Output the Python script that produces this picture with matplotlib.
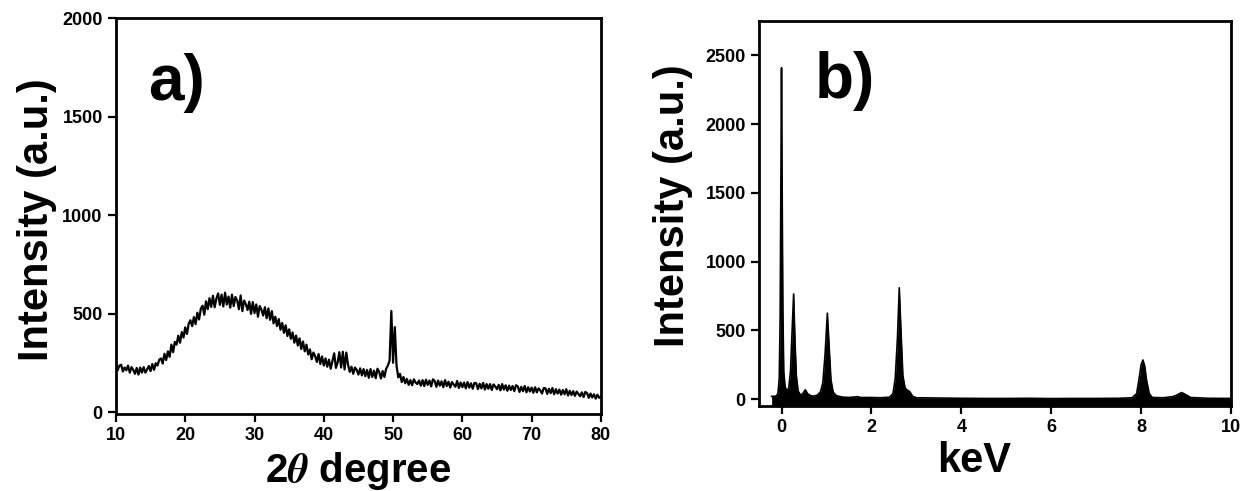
import numpy as np
import matplotlib
matplotlib.use("Agg")
import matplotlib.pyplot as plt

plt.rcParams['font.family'] = ['Liberation Sans', 'DejaVu Sans']
plt.rcParams['font.weight'] = 'bold'
plt.rcParams['mathtext.fontset'] = 'stix'

# ---- a) XRD pattern, 2theta from 10 to 80 in 0.25 degree steps ----
two_theta = np.arange(10, 80.001, 0.25)
xrd_counts = [
    245, 212, 236, 240, 206, 226, 212, 236,
    200, 228, 214, 194, 224, 190, 226, 200,
    228, 200, 216, 234, 208, 244, 214, 248,
    236, 266, 272, 246, 296, 264, 308, 280,
    342, 304, 356, 342, 388, 352, 406, 378,
    430, 396, 448, 466, 436, 482, 446, 504,
    470, 524, 540, 494, 562, 522, 578, 534,
    590, 532, 576, 602, 544, 596, 536, 606,
    546, 586, 530, 596, 538, 584, 566, 522,
    592, 512, 566, 548, 518, 560, 498, 558,
    502, 546, 484, 538, 520, 490, 532, 476,
    526, 468, 512, 450, 484, 436, 472, 418,
    452, 402, 440, 386, 420, 372, 404, 352,
    388, 338, 374, 320, 358, 308, 342, 292,
    318, 268, 302, 284, 254, 294, 244, 282,
    236, 272, 230, 266, 220, 258, 298, 224,
    252, 304, 226, 306, 216, 302, 240, 204,
    230, 194, 226, 214, 190, 222, 186, 218,
    182, 214, 174, 218, 178, 210, 172, 220,
    204, 170, 208, 178, 220, 236, 262, 513,
    250, 431, 236, 176, 194, 152, 178, 146,
    168, 138, 162, 136, 166, 150, 142, 160,
    134, 162, 132, 164, 138, 160, 130, 166,
    158, 128, 160, 134, 156, 126, 162, 132,
    154, 124, 152, 140, 128, 158, 122, 150,
    126, 150, 120, 152, 124, 146, 118, 148,
    146, 116, 144, 120, 148, 114, 142, 118,
    142, 112, 140, 130, 116, 138, 110, 142,
    114, 136, 108, 134, 112, 132, 106, 136,
    130, 102, 128, 106, 132, 100, 126, 104,
    124,  98, 126, 100, 120, 110,  94, 122,
    120,  92, 118,  96, 122,  90, 116,  94,
    114,  88, 112,  90, 116,  84, 108,  86,
    106,  82, 104,  92,  80, 100,  76, 102,
     96,  72,  94,  74,  90,  68,  88,  72,
     78,
]

# ---- b) EDS spectrum ----
energy_kev = [
    -0.22, -0.12, -0.08, -0.05, -0.03, -0.015, 0.0, 0.015, 0.03, 0.05,
    0.08, 0.12, 0.16, 0.20, 0.23, 0.27, 0.30, 0.33, 0.37, 0.42,
    0.47, 0.53, 0.58, 0.65, 0.72, 0.80, 0.87, 0.92, 0.97, 1.02,
    1.06, 1.10, 1.15, 1.22, 1.35, 1.50, 1.70, 1.75, 2.00, 2.20,
    2.40, 2.48, 2.53, 2.58, 2.62, 2.66, 2.70, 2.75, 2.80, 2.85,
    2.92, 3.00, 3.50, 4.00, 4.50, 5.00, 5.50, 6.00, 6.50, 7.00,
    7.50, 7.80, 7.90, 7.96, 8.00, 8.04, 8.08, 8.12, 8.18, 8.25,
    8.50, 8.70, 8.80, 8.90, 8.98, 9.10, 9.50, 10.0,
]
eds_counts = [
    20, 22, 40, 150, 600, 1500, 2410, 1500, 650, 200,
    90, 60, 80, 200, 450, 765, 420, 170, 60, 30,
    40, 68, 40, 25, 22, 30, 55, 120, 330, 625,
    380, 140, 50, 25, 15, 12, 18, 12, 12, 10,
    14, 40, 150, 450, 810, 480, 170, 80, 65, 55,
    20, 10, 8, 6, 5, 5, 6, 4, 5, 5,
    6, 10, 40, 160, 250, 285, 240, 140, 40, 12,
    10, 18, 30, 48, 35, 12, 6, 5,
]

fig = plt.figure(figsize=(12.48, 4.91), dpi=100)
ax1 = fig.add_axes([0.0929, 0.1568, 0.3886, 0.8065])
ax2 = fig.add_axes([0.6082, 0.1731, 0.3782, 0.7841])

# panel a
ax1.plot(two_theta, xrd_counts, color='black', lw=1.6)
ax1.set_xlim(10, 80)
ax1.set_ylim(-10, 2000)
ax1.set_xticks(range(10, 81, 10))
ax1.set_yticks(range(0, 2001, 500))
ax1.set_xlabel(r'2$\theta$ degree', fontsize=29, fontweight='bold')
ax1.set_ylabel('Intensity (a.u.)', fontsize=30, fontweight='bold')
ax1.xaxis.set_label_coords(0.5, -0.09)
ax1.yaxis.set_label_coords(-0.122, 0.49)
ax1.text(0.066, 0.793, 'a)', transform=ax1.transAxes, fontsize=46,
         fontweight='bold', ha='left', va='baseline')

# panel b
ax2.fill_between(energy_kev, eds_counts, -100, color='black', lw=0)
ax2.plot(energy_kev, eds_counts, color='black', lw=1.2)
ax2.set_xlim(-0.5, 10)
ax2.set_ylim(-50, 2750)
ax2.set_xticks(range(0, 11, 2))
ax2.set_yticks(range(0, 2501, 500))
ax2.set_xlabel('keV', fontsize=30, fontweight='bold')
ax2.set_ylabel('Intensity (a.u.)', fontsize=30, fontweight='bold')
ax2.xaxis.set_label_coords(0.455, -0.09)
ax2.yaxis.set_label_coords(-0.14, 0.52)
ax2.text(0.119, 0.80, 'b)', transform=ax2.transAxes, fontsize=46,
         fontweight='bold', ha='left', va='baseline')

for ax in (ax1, ax2):
    for s in ax.spines.values():
        s.set_linewidth(2)
    ax.tick_params(direction='out', length=6, width=1.6, labelsize=13,
                   top=False, right=False)
    for lab in ax.get_xticklabels() + ax.get_yticklabels():
        lab.set_fontweight('bold')

fig.savefig('out.png', dpi=100, facecolor='white')
